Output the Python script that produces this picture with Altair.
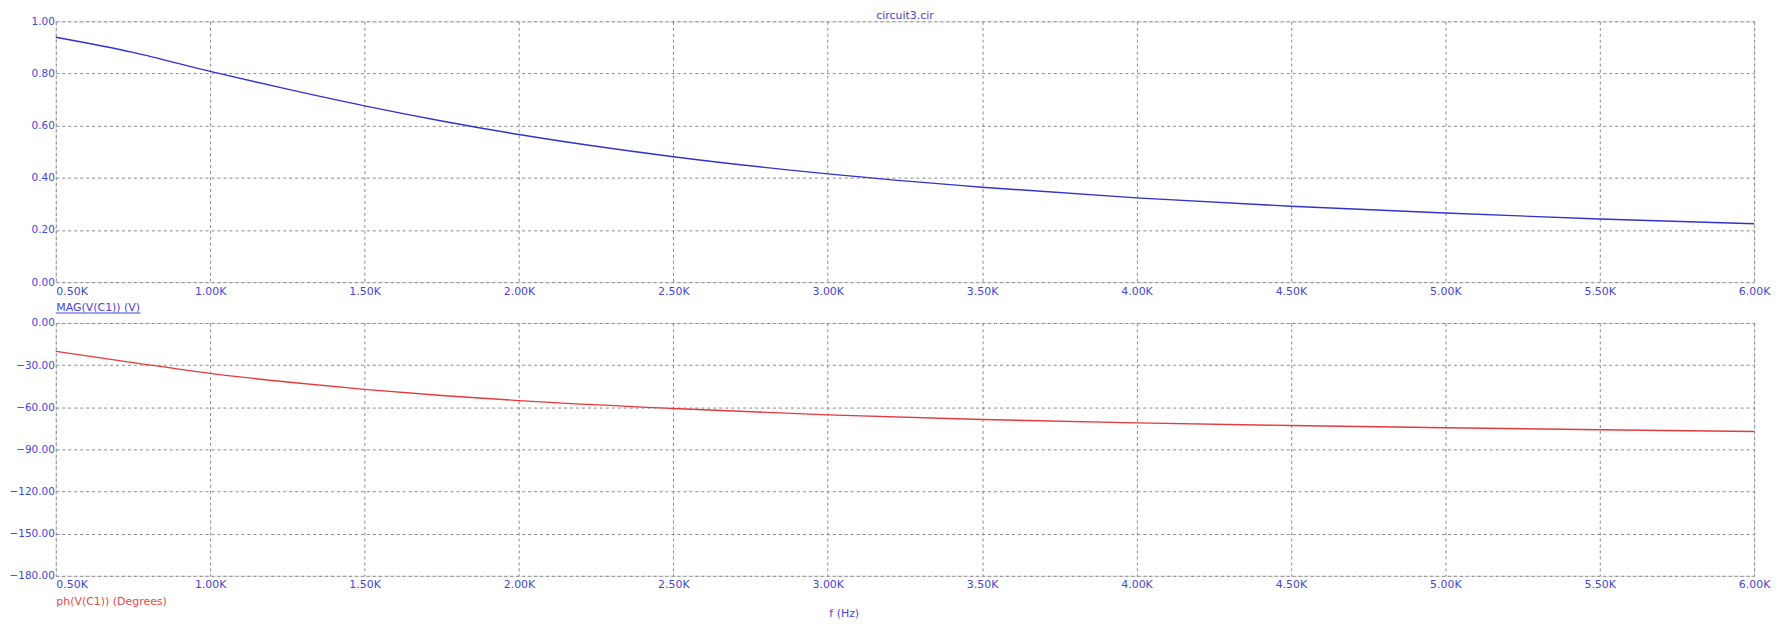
import altair as alt
import pandas as pd

# ---- data ----
freq = [500, 750, 1000, 1250, 1500, 1750, 2000, 2500, 3000, 3500, 4000, 4500, 5000, 5500, 6000]
mag = [0.939, 0.881, 0.808, 0.740, 0.676, 0.618, 0.566, 0.481, 0.415, 0.364, 0.323, 0.291, 0.265, 0.242, 0.224]
phase = [-20.2, -28.2, -35.9, -42.0, -47.3, -51.6, -55.3, -60.9, -65.4, -68.7, -71.1, -73.0, -74.6, -76.0, -77.3]

x_ticks = [500, 1000, 1500, 2000, 2500, 3000, 3500, 4000, 4500, 5000, 5500, 6000]
mag_ticks = [0.0, 0.2, 0.4, 0.6, 0.8, 1.0]
phase_ticks = [0, -30, -60, -90, -120, -150, -180]

title_text = "circuit3.cir"
mag_label = "MAG(V(C1)) (V)"
phase_label = "ph(V(C1)) (Degrees)"
x_label = "f (Hz)"

df = pd.DataFrame({"f": freq, "mag": mag, "phase": phase})

FONT = "DejaVu Sans"
BLUE_TXT = "#4646d8"
RED_TXT = "#e44a4a"
BLUE_LINE = "#3232d0"
RED_LINE = "#e8383c"
GRID = "#8a8a8a"

W = 1706
H_TOP = 262
H_BOT = 254

x_label_align = {"condition": {"test": "datum.value <= 500", "value": "left"}, "value": "center"}


def x_axis(title, color, title_y):
    return alt.Axis(
        values=x_ticks,
        labelExpr="format(datum.value / 1000, '.2f') + 'K'",
        labelAlign=x_label_align,
        labelFlush=False,
        labelOverlap=False,
        labelBound=False,
        labelPadding=3,
        labelFont=FONT,
        labelFontSize=11,
        labelColor=BLUE_TXT,
        ticks=False,
        domain=False,
        grid=True,
        gridColor=GRID,
        gridDash=[3, 3],
        gridWidth=1,
        title=title,
        titleFont=FONT,
        titleFontSize=11,
        titleFontWeight="normal",
        titleColor=color,
        titleAnchor="start",
        titleAlign="left",
        titleBaseline="middle",
        titleX=0,
        titleY=title_y,
    )


def y_axis(values):
    return alt.Axis(
        values=values,
        format=".2f",
        labelFont=FONT,
        labelFontSize=10.5,
        labelColor=BLUE_TXT,
        labelPadding=1.5,
        labelOverlap=False,
        labelFlush=False,
        ticks=False,
        domain=False,
        grid=True,
        gridColor=GRID,
        gridDash=[3, 3],
        gridWidth=1,
        title=None,
        minExtent=42,
        maxExtent=42,
    )


x_scale = alt.Scale(domain=[500, 6000], nice=False, zero=False)

top_line = alt.Chart(df).mark_line(color=BLUE_LINE, strokeWidth=1.4, interpolate="monotone").encode(
    x=alt.X("f:Q", scale=x_scale, axis=x_axis(mag_label, BLUE_TXT, 25)),
    y=alt.Y("mag:Q", scale=alt.Scale(domain=[0, 1], nice=False), axis=y_axis(mag_ticks)),
)

underline = alt.Chart(pd.DataFrame({"u": [0]})).mark_rule(color=BLUE_TXT, strokeWidth=1).encode(
    x=alt.value(0), x2=alt.value(85), y=alt.value(H_TOP + 31)
)

top = alt.layer(top_line, underline).properties(
    width=W,
    height=H_TOP,
    title=alt.Title(
        title_text,
        anchor="middle",
        frame="group",
        font=FONT,
        fontSize=11,
        fontWeight="normal",
        color=BLUE_TXT,
        offset=-5,
    ),
)

bottom = alt.Chart(df).mark_line(color=RED_LINE, strokeWidth=1.4, interpolate="monotone").encode(
    x=alt.X("f:Q", scale=x_scale, axis=x_axis(phase_label, RED_TXT, 26)),
    y=alt.Y("phase:Q", scale=alt.Scale(domain=[-180, 0], nice=False), axis=y_axis(phase_ticks)),
).properties(
    width=W,
    height=H_BOT,
    title=alt.Title(
        x_label,
        orient="bottom",
        anchor="middle",
        frame="group",
        font=FONT,
        fontSize=11,
        fontWeight="normal",
        color=BLUE_TXT,
        offset=1,
        dx=-61,
    ),
)

chart = alt.vconcat(top, bottom, spacing=3).properties(
    padding={"left": 0, "top": 0, "right": 5, "bottom": 0}
).configure_view(
    stroke="#a0a0a0", strokeWidth=1.5
).configure(background="white")

chart.save("out.html", embed_options={"renderer": "svg", "actions": False})
